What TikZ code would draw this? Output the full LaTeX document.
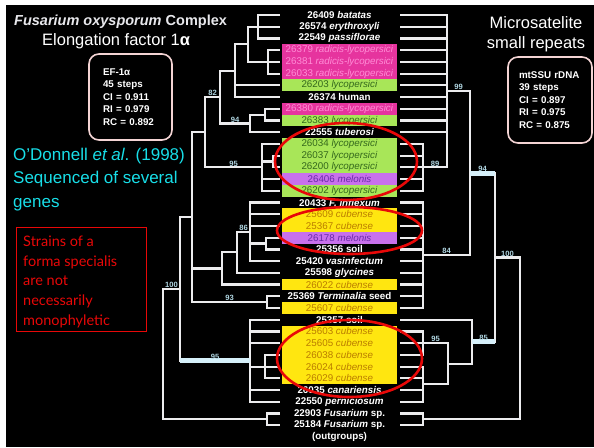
\documentclass[tikz,border=0pt]{standalone}
\usepackage{fontspec}
\setmainfont{Liberation Sans}
\newfontfamily\gillfont{Lato}
\usetikzlibrary{positioning,calc,shapes.geometric}
\definecolor{pinkfill}{RGB}{230,52,158}
\definecolor{pinkink}{RGB}{255,140,214}
\definecolor{greenfill}{RGB}{168,230,88}
\definecolor{greenink}{RGB}{52,104,28}
\definecolor{violetfill}{RGB}{200,112,236}
\definecolor{violetink}{RGB}{104,42,168}
\definecolor{yellowfill}{RGB}{255,230,16}
\definecolor{yellowink}{RGB}{186,124,0}
\definecolor{twig}{RGB}{236,236,238}
\definecolor{boldtwig}{RGB}{214,240,250}
\definecolor{bootink}{RGB}{176,214,226}
\definecolor{aqua}{RGB}{24,222,232}
\definecolor{ringred}{RGB}{232,8,8}
\definecolor{frame}{RGB}{244,212,212}
\definecolor{titlegray}{RGB}{232,232,236}
\newcommand{\rowy}[1]{15+(#1-1)*11.72}
\newcommand{\clade}[2]{\foreach \kid in {#2} \draw[branch] (#1) |- (\kid);}
\newcommand{\boot}[3]{\node[support] (b#1) at ($(#1)!0.5!(#1 -| #2)$) {#3};}
\tikzset{
  strain/.style={minimum width=115pt,minimum height=11.8pt,inner sep=0pt,font=\fontsize{9.8}{10}\selectfont},
  wlab/.style={strain,text=white,font=\fontsize{9.8}{10}\selectfont\bfseries},
  plab/.style={strain,fill=pinkfill,text=pinkink},
  glab/.style={strain,fill=greenfill,text=greenink},
  vlab/.style={strain,fill=violetfill,text=violetink},
  ylab/.style={strain,fill=yellowfill,text=yellowink},
  branch/.style={draw=twig,line width=2.2pt},
  heavy/.style={draw=boldtwig,line width=4.8pt},
  support/.style={anchor=south,inner sep=1pt,text=bootink,font=\fontsize{7.6}{8}\selectfont\bfseries},
  statbox/.style={draw=frame,line width=1.6pt,rounded corners=10pt,align=left,text=white,minimum height=86pt,font=\fontsize{9.8}{12.4}\selectfont\bfseries},
  ring/.style={draw=ringred,line width=2.6pt,ellipse,inner sep=0pt}
}

\begin{document}
\begin{tikzpicture}[x=1pt,y=-1pt]
  \useasboundingbox (0,0) rectangle (594,447);
  \fill[black] (0,0) rectangle (594,447);
  \fill[white] (0,0) rectangle (594,5);
  \fill[white] (0,0) rectangle (6,447);

  % strains
  \foreach \k/\txt/\sty in {
    1/{26409 \textit{batatas}}/wlab,
    2/{26574 \textit{erythroxyli}}/wlab,
    3/{22549 \textit{passiflorae}}/wlab,
    4/{26379 \textit{radicis-lycopersici}}/plab,
    5/{26381 \textit{radicis-lycopersici}}/plab,
    6/{26033 \textit{radicis-lycopersici}}/plab,
    7/{26203 \textit{lycopersici}}/glab,
    8/{26374 human}/wlab,
    9/{26380 \textit{radicis-lycopersici}}/plab,
    10/{26383 \textit{lycopersici}}/glab,
    11/{22555 \textit{tuberosi}}/wlab,
    12/{26034 \textit{lycopersici}}/glab,
    13/{26037 \textit{lycopersici}}/glab,
    14/{26200 \textit{lycopersici}}/glab,
    15/{26406 \textit{melonis}}/vlab,
    16/{26202 \textit{lycopersici}}/glab,
    17/{20433 \textit{F. inflexum}}/wlab,
    18/{25609 \textit{cubense}}/ylab,
    19/{25367 \textit{cubense}}/ylab,
    20/{26178 \textit{melonis}}/vlab,
    21/{25356 soil}/wlab,
    22/{25420 \textit{vasinfectum}}/wlab,
    23/{25598 \textit{glycines}}/wlab,
    24/{26022 \textit{cubense}}/ylab,
    25/{25369 \textit{Terminalia} seed}/wlab,
    26/{25607 \textit{cubense}}/ylab,
    27/{25357 soil}/wlab,
    28/{25603 \textit{cubense}}/ylab,
    29/{25605 \textit{cubense}}/ylab,
    30/{26038 \textit{cubense}}/ylab,
    31/{26024 \textit{cubense}}/ylab,
    32/{26029 \textit{cubense}}/ylab,
    33/{26035 \textit{canariensis}}/wlab,
    34/{22550 \textit{perniciosum}}/wlab,
    35/{22903 \textit{Fusarium} sp.}/wlab,
    36/{25184 \textit{Fusarium} sp.}/wlab}{
    \node[style=\sty] (s\k) at (339.5,{\rowy{\k}}) {\txt};
    \coordinate (L\k) at (280,{\rowy{\k}});
    \coordinate (R\k) at (400,{\rowy{\k}});
  }
  \node[wlab] (outg) at (339.5,{\rowy{37}}) {(outgroups)};

  % EF-1a tree
  \coordinate (la1) at (258,26.72);
  \coordinate (la2) at (268,61.88);
  \coordinate (la3) at (248,44.30);
  \coordinate (la4) at (235,70.67);
  \coordinate (lb1) at (265,114.62);
  \coordinate (lb2) at (250,123.41);
  \coordinate (l82) at (220,97.04);
  \coordinate (lc1) at (273,161.50);
  \coordinate (lc2) at (262,167.36);
  \coordinate (l95a) at (205,132.20);
  \coordinate (ld1) at (266,243.54);
  \coordinate (l86) at (250,231.82);
  \coordinate (ld2) at (237,252.33);
  \coordinate (ld3) at (222,268.45);
  \coordinate (l93) at (267,302.14);
  \coordinate (le1) at (192,217.17);
  \coordinate (lf1) at (265,366.60);
  \coordinate (l95b) at (250,360.74);
  \coordinate (l100) at (180,288.96);
  \coordinate (lg1) at (267,419.34);
  \coordinate (lroot) at (163,354.15);
  \clade{la1}{L1,L2,L3}
  \clade{la2}{L4,L5,L6}
  \clade{la3}{la1,la2}
  \clade{la4}{la3,L7,L8}
  \clade{lb1}{L9,L10}
  \clade{lb2}{lb1,L11}
  \clade{l82}{la4,lb2}
  \clade{lc1}{L13,L14}
  \clade{lc2}{L12,lc1,L15,L16}
  \clade{l95a}{l82,lc2}
  \clade{ld1}{L20,L21}
  \clade{l86}{L17,L18,L19,ld1,L22}
  \clade{ld2}{l86,L23}
  \clade{ld3}{ld2,L24}
  \clade{l93}{L25,L26}
  \clade{le1}{l95a,ld3,l93}
  \clade{lf1}{L30,L31,L32}
  \clade{l95b}{L27,L28,L29,lf1,L33,L34}
  \clade{l100}{le1,l95b}
  \clade{lg1}{L35,L36}
  \clade{lroot}{l100,lg1}
  \draw[heavy] (l95b -| l100) -- (l95b);
  \boot{l82}{l95a}{82}
  \boot{lb2}{l82}{94}
  \boot{lc2}{l95a}{95}
  \boot{l86}{ld2}{86}
  \boot{l93}{le1}{93}
  \boot{l100}{lroot}{100}
  \boot{l95b}{l100}{95}

  % mtSSU tree
  \coordinate (rc89) at (423,167.36);
  \coordinate (r99) at (447,91.18);
  \coordinate (r84) at (423,255.26);
  \coordinate (r94) at (470,173.22);
  \coordinate (rs1) at (423,343.16);
  \coordinate (rs2) at (423,384.18);
  \coordinate (r95) at (448,363.67);
  \coordinate (rx) at (472,341.70);
  \coordinate (r100) at (495,257.46);
  \coordinate (rg) at (423,419.34);
  \coordinate (rroot) at (520,338.40);
  \clade{rc89}{R12,R13,R14,R15,R16}
  \clade{r99}{R1,R2,R3,R4,R5,R6,R7,R8,R9,R10,R11,rc89}
  \clade{r84}{R17,R18,R19,R20,R21,R22,R23,R24,R25,R26}
  \clade{r94}{r99,r84}
  \clade{rs1}{R28,R29,R30}
  \clade{rs2}{R31,R32,R33,R34}
  \clade{r95}{rs1,rs2}
  \clade{rx}{R27,r95}
  \clade{r100}{r94,rx}
  \clade{rg}{R35,R36}
  \clade{rroot}{r100,rg}
  \draw[heavy] (r94 -| r100) -- (r94);
  \draw[heavy] (rx -| r100) -- (rx);
  \boot{rc89}{r99}{89}
  \boot{r99}{r94}{99}
  \boot{r94}{r100}{94}
  \boot{r84}{r94}{84}
  \boot{rs1}{r95}{95}
  \boot{rx}{r100}{85}
  \boot{r100}{rroot}{100}

  % circled groups
  \node[ring,minimum width=142pt,minimum height=77pt] (ring1) at (346,161.5) {};
  \node[ring,minimum width=145pt,minimum height=47pt] (ring2) at (349.5,230.5) {};
  \node[ring,minimum width=145pt,minimum height=77pt] (ring3) at (349.5,358.5) {};

  % headings and boxes
  \node[anchor=base west,inner sep=0pt,text=titlegray,font=\fontsize{14.5}{15}\selectfont\bfseries] (title) at (14,25) {\textit{Fusarium oxysporum} Complex};
  \node[anchor=base west,inner sep=0pt,text=white,font=\fontsize{16.5}{17}\selectfont] (efname) at (42,45) {Elongation factor 1\textbf{α}};
  \node[anchor=base,inner sep=0pt,text=white,font=\fontsize{16.5}{17}\selectfont] (micro1) at (536,28) {Microsatelite};
  \node[anchor=base,inner sep=0pt,text=white,font=\fontsize{16.5}{17}\selectfont] (micro2) at (536,48) {small repeats};
  \node[statbox,text width=55pt,inner xsep=14pt] (efbox) at (130.5,97) {EF-1α\\45 steps\\CI = 0.911\\RI = 0.979\\RC = 0.892};
  \node[statbox,text width=62pt,inner xsep=11pt] (ssubox) at (550,100) {mtSSU rDNA\\39 steps\\CI = 0.897\\RI = 0.975\\RC = 0.875};
  \node[anchor=north west,inner sep=0pt,align=left,text=aqua,font=\fontsize{17}{23.5}\selectfont] (odonnell) at (13,147.6) {O'Donnell \textit{et al}. (1998)\\Sequenced of several\\genes};
  \node[draw=ringred,line width=1.4pt,anchor=north west,minimum width=130pt,minimum height=104pt] (notebox) at (16,227) {};
  \node[anchor=north west,inner sep=0pt,align=left,text=ringred,font=\gillfont\fontsize{14.5}{19.8}\selectfont] (note) at (23,235.5) {Strains of a\\forma specialis\\are not\\necessarily\\monophyletic};
\end{tikzpicture}
\end{document}
